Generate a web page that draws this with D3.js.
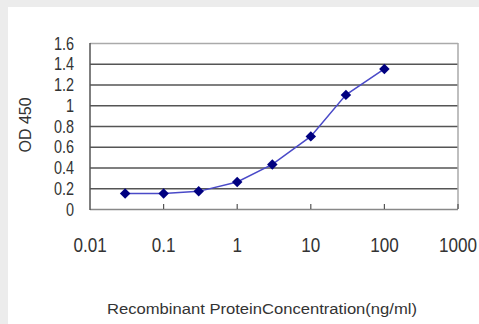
<!DOCTYPE html>
<html>
<head>
<meta charset="utf-8">
<script src="https://cdn.jsdelivr.net/npm/d3@7"></script>
<style>
body { margin: 0; background: #ececec; }
svg { display: block; }
text { font-family: "Liberation Sans", Arial, sans-serif; fill: #333; }
</style>
</head>
<body>
<div id="chart"></div>
<script>
// concentrations (ng/ml) and OD450 readings
var concValues = [0.03, 0.1, 0.3, 1, 3, 10, 30, 100];
var odValues = [0.15, 0.15, 0.17, 0.26, 0.43, 0.70, 1.10, 1.35];
var xTickValues = [0.01, 0.1, 1, 10, 100, 1000];
var xTickLabels = ["0.01", "0.1", "1", "10", "100", "1000"];
var yTickValues = [0, 0.2, 0.4, 0.6, 0.8, 1, 1.2, 1.4, 1.6];
var yTickLabels = ["0", "0.2", "0.4", "0.6", "0.8", "1", "1.2", "1.4", "1.6"];

var width = 479, height = 324;
var plotLeft = 90, plotRight = 458, plotTop = 43, plotBottom = 209;

var svg = d3.select("#chart")
        .append("svg")
        .attr("width", width)
        .attr("height", height);

// white panel
svg.append("rect")
  .attr("x", 8).attr("y", 7)
  .attr("width", width - 8).attr("height", height - 7)
  .style("fill", "#fff");

var x = d3.scaleLog().domain([0.01, 1000]).range([plotLeft, plotRight]);
var y = d3.scaleLinear().domain([0, 1.6]).range([plotBottom, plotTop]);

// grid lines
svg.selectAll(".grid")
  .data(yTickValues.slice(1, -1))
  .enter()
  .append("line")
  .attr("class", "grid")
  .attr("x1", plotLeft).attr("x2", plotRight)
  .attr("y1", function(d) { return y(d) + 0.5; })
  .attr("y2", function(d) { return y(d) + 0.5; })
  .style("stroke", "#555")
  .style("stroke-width", 1.5);

// frame
svg.append("line").attr("x1", plotLeft).attr("x2", plotRight).attr("y1", plotTop + 0.5).attr("y2", plotTop + 0.5)
  .style("stroke", "#aaa").style("stroke-width", 1.5);
svg.append("line").attr("x1", plotRight).attr("x2", plotRight).attr("y1", plotTop).attr("y2", plotBottom)
  .style("stroke", "#aaa").style("stroke-width", 1.5);
svg.append("line").attr("x1", plotLeft).attr("x2", plotRight).attr("y1", plotBottom + 0.5).attr("y2", plotBottom + 0.5)
  .style("stroke", "#888").style("stroke-width", 1.5);
svg.append("line").attr("x1", plotLeft).attr("x2", plotLeft).attr("y1", plotTop).attr("y2", plotBottom + 1)
  .style("stroke", "#555").style("stroke-width", 1.5);

// x ticks (inside)
svg.selectAll(".xtick")
  .data(xTickValues.slice(1))
  .enter()
  .append("line")
  .attr("class", "xtick")
  .attr("x1", function(d) { return x(d); })
  .attr("x2", function(d) { return x(d); })
  .attr("y1", plotBottom - 5).attr("y2", plotBottom)
  .style("stroke", "#555").style("stroke-width", 1.2);

// y tick labels
svg.selectAll(".ylab")
  .data(yTickValues)
  .enter()
  .append("text")
  .attr("class", "ylab")
  .attr("text-anchor", "end")
  .attr("transform", function(d) { return "translate(74," + (y(d) + 6.5) + ") scale(0.85,1.12)"; })
  .style("font-size", "17px")
  .text(function(d, i) { return yTickLabels[i]; });

// x tick labels
svg.selectAll(".xlab")
  .data(xTickValues)
  .enter()
  .append("text")
  .attr("class", "xlab")
  .attr("text-anchor", "middle")
  .attr("transform", function(d) { return "translate(" + x(d) + ",252) scale(0.9,1.1)"; })
  .style("font-size", "19px")
  .text(function(d, i) { return xTickLabels[i]; });

// axis titles
svg.append("text")
  .attr("transform", "translate(31,125) rotate(-90)")
  .attr("text-anchor", "middle")
  .style("font-size", "16px")
  .text("OD 450");

svg.append("text")
  .attr("x", 107).attr("y", 314)
  .attr("textLength", 310)
  .attr("lengthAdjust", "spacingAndGlyphs")
  .style("font-size", "14px")
  .text("Recombinant ProteinConcentration(ng/ml)");

// line and markers
var line = d3.line()
  .x(function(d, i) { return x(concValues[i]); })
  .y(function(d) { return y(d); });

svg.append("path")
  .datum(odValues)
  .attr("d", line)
  .style("fill", "none")
  .style("stroke", "#4a4ac8")
  .style("stroke-width", 1.5);

svg.selectAll(".pt")
  .data(odValues)
  .enter()
  .append("path")
  .attr("class", "pt")
  .attr("transform", function(d, i) { return "translate(" + x(concValues[i]) + "," + y(d) + ") rotate(45)"; })
  .attr("d", d3.symbol().type(d3.symbolSquare).size(55))
  .style("fill", "#000080");
</script>
</body>
</html>
